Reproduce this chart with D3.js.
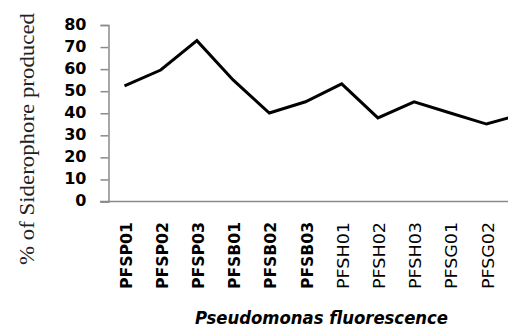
<!DOCTYPE html>
<html><head><meta charset="utf-8">
<script src="https://cdn.jsdelivr.net/npm/d3@7"></script>
<style>html,body{margin:0;padding:0;background:#fff;overflow:hidden}</style>
</head><body>
<svg id="c" width="508" height="330"></svg>
<script>
const categories = ["PFSP01","PFSP02","PFSP03","PFSB01","PFSB02","PFSB03","PFSH01","PFSH02","PFSH03","PFSG01","PFSG02","PFSG03"];
const boldLabels = [true,true,true,true,true,true,false,false,false,false,false,false];
const siderophore = [52.4,59.6,72.9,55.1,40.1,45.2,53.3,37.9,45.2,40.1,35.1,39.7];
const yTicks = [0,10,20,30,40,50,60,70,80];
const yTitle = "% of Siderophore produced";
const xTitle = "Pseudomonas fluorescence";

const W = 508;
const svg = d3.select("#c");
const x = d3.scalePoint().domain(categories).range([124.5, 124.5 + 11*36.2]);
const y = d3.scaleLinear().domain([0,80]).range([201.5,25]);
const axisColor = "#8a8a8a";

// Y axis
const yAxis = svg.append("g").attr("transform","translate(108.5,0)")
  .call(d3.axisLeft(y).tickValues(yTicks).tickSize(8).tickPadding(14).tickFormat(d3.format("d")));
yAxis.select(".domain").attr("stroke",axisColor).attr("stroke-width",1.5);
yAxis.selectAll(".tick line").attr("stroke",axisColor).attr("stroke-width",1.5);
yAxis.selectAll(".tick text").attr("fill","#000")
  .style("font-family","DejaVu Sans").style("font-weight","bold").style("font-size","16px")
  .attr("dy","0.25em");

// X axis line
svg.append("line").attr("x1",100).attr("x2",W).attr("y1",y(0)).attr("y2",y(0))
  .attr("stroke",axisColor).attr("stroke-width",1.5);

// X labels (only those inside the visible frame)
const visible = categories.map((d,i)=>({d,i})).filter(o=>x(o.d)+7 < W);
svg.append("g").selectAll("text").data(visible).join("text")
  .attr("transform",o=>`translate(${x(o.d)+7},222) rotate(-90)`)
  .attr("text-anchor","end")
  .attr("textLength",67).attr("lengthAdjust","spacingAndGlyphs")
  .style("font-family","DejaVu Sans")
  .style("font-weight",o=>boldLabels[o.i]?"bold":"normal")
  .style("font-size","16px")
  .text(o=>o.d);

// Line
const line = d3.line().x((d,i)=>x(categories[i])).y(d=>y(d));
svg.append("path").datum(siderophore).attr("d",line)
  .attr("fill","none").attr("stroke","#000").attr("stroke-width",3).attr("stroke-linejoin","miter");

// Y title
svg.append("text").attr("transform","translate(34,265) rotate(-90)")
  .attr("textLength",252).attr("lengthAdjust","spacingAndGlyphs")
  .style("font-family","Liberation Serif").style("font-size","20px").attr("fill","#222")
  .text(yTitle);

// X title
svg.append("text").attr("x",195).attr("y",324)
  .attr("textLength",253).attr("lengthAdjust","spacingAndGlyphs")
  .style("font-family","DejaVu Sans").style("font-weight","bold").style("font-style","italic")
  .style("font-size","18px").text(xTitle);
</script>
</body></html>
